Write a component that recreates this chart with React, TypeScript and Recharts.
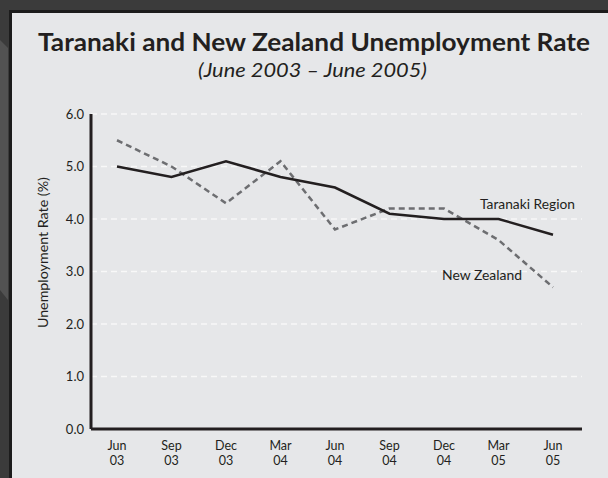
import React from 'react';
import { LineChart, Line, XAxis, YAxis, CartesianGrid } from 'recharts';

const months = ['Jun', 'Sep', 'Dec', 'Mar', 'Jun', 'Sep', 'Dec', 'Mar', 'Jun'];
const years = ['03', '03', '03', '04', '04', '04', '04', '05', '05'];
const taranaki = [5.0, 4.8, 5.1, 4.8, 4.6, 4.1, 4.0, 4.0, 3.7];
const newZealand = [5.5, 5.0, 4.3, 5.1, 3.8, 4.2, 4.2, 3.6, 2.7];
const yTicks = [0, 1, 2, 3, 4, 5, 6];

const data = months.map((m, i) => ({
  period: `${m} ${years[i]}`,
  taranaki: taranaki[i],
  nz: newZealand[i],
}));

const FONT = 'Lato, "Open Sans", "DejaVu Sans", sans-serif';
const INK = '#231f20';

const XTick = (props: any) => {
  const { x, y, payload } = props;
  const [m, yr] = String(payload.value).split(' ');
  return (
    <g>
      <text x={x} y={y + 21} textAnchor="middle" fontSize={12.5} fill={INK} fontFamily={FONT}>{m}</text>
      <text x={x} y={y + 35.5} textAnchor="middle" fontSize={12.5} fill={INK} fontFamily={FONT}>{yr}</text>
    </g>
  );
};

export default function App() {
  return (
    <div style={{ position: 'fixed', left: 0, top: 0, width: 608, height: 478, overflow: 'hidden', background: '#3b3b3b' }}>
      <svg width={608} height={478} style={{ position: 'absolute', left: 0, top: 0 }}>
        <polygon points="0,40 8,48 8,300 0,290" fill="#525252" />
      </svg>
      <div style={{ position: 'absolute', left: 9, top: 10, right: -20, bottom: -20, background: '#1c1c1c' }} />
      <div style={{ position: 'absolute', left: 12, top: 13, right: -20, bottom: -20, background: '#e6e7e9' }} />
      <div style={{ position: 'absolute', left: 0, top: 0 }}>
        <LineChart width={608} height={478} data={data} margin={{ top: 114, right: 26, bottom: 0, left: 0 }}>
          <CartesianGrid vertical={false} stroke="#f8f8f8" strokeDasharray="6 4" strokeWidth={1.5} />
          <XAxis
            dataKey="period"
            height={49}
            padding={{ left: 26, right: 29 }}
            axisLine={{ stroke: INK, strokeWidth: 3 }}
            tickLine={false}
            tickSize={0}
            tickMargin={0}
            tick={<XTick />}
            interval={0}
          />
          <YAxis
            width={91}
            domain={[0, 6]}
            ticks={yTicks}
            tickFormatter={(v: number) => v.toFixed(1)}
            axisLine={{ stroke: INK, strokeWidth: 3 }}
            tickLine={false}
            tickSize={0}
            tickMargin={7}
            tick={{ fontSize: 13, fill: INK, fontFamily: FONT }}
          />
          <Line type="linear" dataKey="nz" stroke="#6d6e71" strokeWidth={2.5} strokeDasharray="6 4" dot={false} isAnimationActive={false} />
          <Line type="linear" dataKey="taranaki" stroke={INK} strokeWidth={2.5} dot={false} isAnimationActive={false} />
        </LineChart>
      </div>
      <svg width={608} height={478} style={{ position: 'absolute', left: 0, top: 0, pointerEvents: 'none' }} fontFamily={FONT}>
        <text x={314} y={50.7} textAnchor="middle" fontSize={25.5} fontWeight={700} fill={INK} textLength={552} lengthAdjust="spacingAndGlyphs">
          Taranaki and New Zealand Unemployment Rate
        </text>
        <text x={312.5} y={76.5} textAnchor="middle" fontSize={20} fontStyle="italic" fill={INK} textLength={229} lengthAdjust="spacingAndGlyphs">
          (June 2003 – June 2005)
        </text>
        <text x={43.5} y={257} textAnchor="middle" fontSize={13} fill={INK} transform="rotate(-90 43.5 252.6)" textLength={151} lengthAdjust="spacingAndGlyphs">
          Unemployment Rate (%)
        </text>
        <text x={480} y={209} fontSize={12.5} fill={INK} textLength={95} lengthAdjust="spacingAndGlyphs">
          Taranaki Region
        </text>
        <text x={442} y={279.5} fontSize={12.5} fill={INK} textLength={80} lengthAdjust="spacingAndGlyphs">
          New Zealand
        </text>
      </svg>
    </div>
  );
}
